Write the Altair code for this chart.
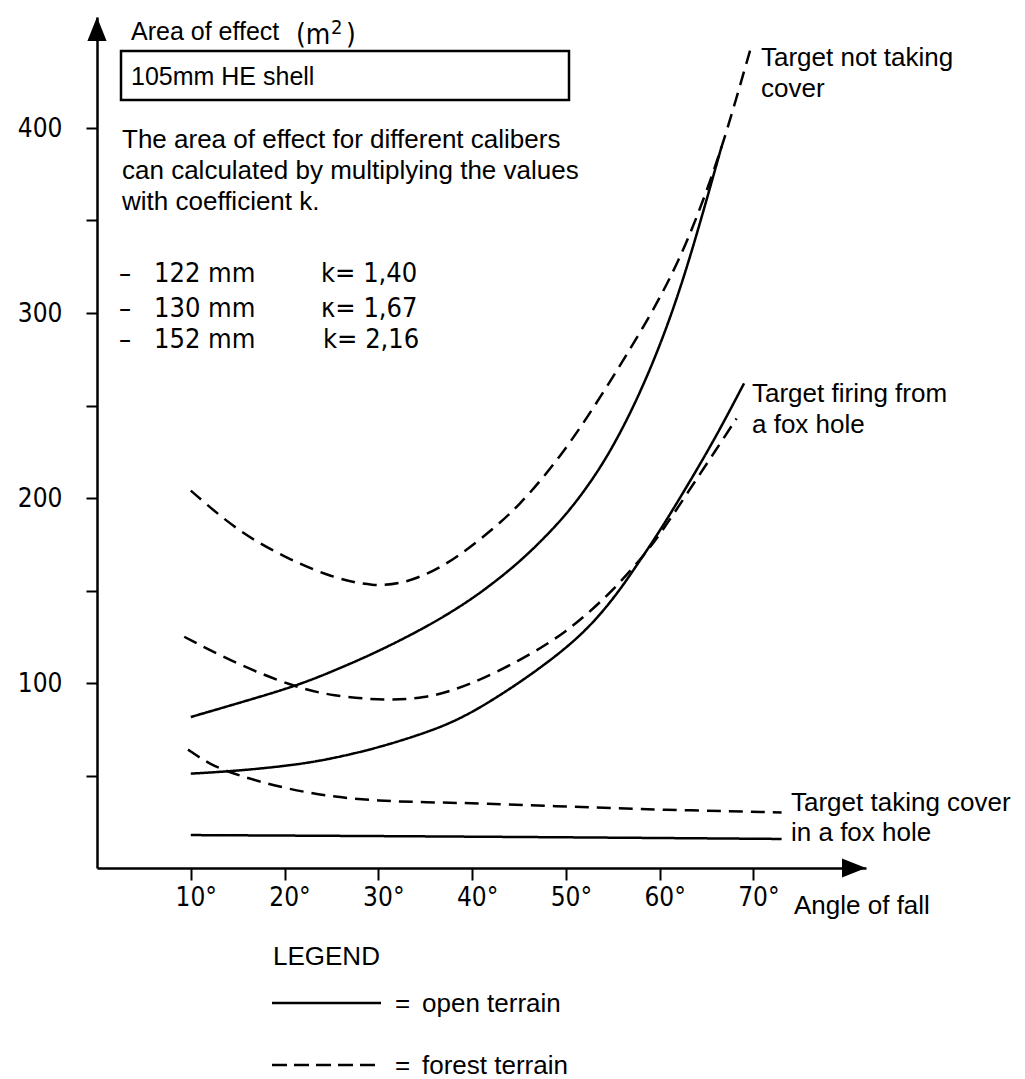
import altair as alt
import pandas as pd

# ---------------- data ----------------
x_ticks = [10, 20, 30, 40, 50, 60, 70]
y_ticks = [50, 100, 150, 200, 250, 300, 350, 400]

open_nocover_angle = [10, 15, 21, 25, 30, 35, 38, 41, 45, 48, 50, 52, 54, 56, 58, 60, 62, 64, 66.6]
open_nocover_area = [81.6, 89, 98, 106, 117, 130, 139, 149, 165, 180, 191, 204, 219, 237, 258, 282, 310, 343, 390]

forest_nocover_angle = [10, 15, 20, 25, 29.5, 33, 37, 40.5, 45, 50, 54, 58, 60, 62, 64, 66, 67.5, 69.7]
forest_nocover_area = [204, 182, 168, 157, 152, 154, 163, 176, 195, 226, 257, 290, 308, 328, 352, 380, 404, 443]

open_fox_angle = [10, 15, 21, 25, 30, 35, 38, 41, 45, 48, 50, 52, 54, 56, 58, 60, 63, 66, 69]
open_fox_area = [51, 52.5, 55.6, 59, 65, 73, 79, 87, 100, 111, 119, 128, 139, 152, 167, 182, 207, 233, 262]

forest_fox_angle = [9.3, 15, 21, 25, 31, 35, 38, 41, 45, 48, 50, 52, 55, 58, 60, 63, 66, 68.2]
forest_fox_area = [125, 110, 98, 93, 90.4, 92, 96, 102, 112, 121, 128, 136, 150, 167, 180, 203, 226, 243]

forest_cover_angle = [9.7, 12, 15, 20, 25, 30, 35, 41, 51, 60, 73]
forest_cover_area = [64, 56, 50, 43, 38.5, 36.3, 35.5, 35, 33, 31.5, 30]

open_cover_angle = [10, 40, 73]
open_cover_area = [17.8, 17, 15.7]

series = [
    ("open_nocover", "open", open_nocover_angle, open_nocover_area),
    ("forest_nocover", "forest", forest_nocover_angle, forest_nocover_area),
    ("open_fox", "open", open_fox_angle, open_fox_area),
    ("forest_fox", "forest", forest_fox_angle, forest_fox_area),
    ("forest_cover", "forest", forest_cover_angle, forest_cover_area),
    ("open_cover", "open", open_cover_angle, open_cover_area),
]
rows = []
for name, terrain, angs, vals in series:
    for a, v in zip(angs, vals):
        rows.append({"series": name, "terrain": terrain, "angle": a, "area": v})
df = pd.DataFrame(rows)

# ---------------- layout ----------------
W, H = 769, 851
XMAX, YMAX = 82, 460
SANS = "Liberation Sans"
COND = "DejaVu Sans Condensed, DejaVu Sans"

x_scale = alt.Scale(domain=[0, XMAX], nice=False, zero=True)
y_scale = alt.Scale(domain=[0, YMAX], nice=False, zero=True)

lines = alt.Chart(df).mark_line(
    interpolate="basis", color="black", strokeWidth=2.5
).encode(
    x=alt.X("angle:Q", scale=x_scale, axis=alt.Axis(
        values=x_ticks, labelExpr="datum.value + '°'", title=None, grid=False,
        tickSize=12, tickWidth=2, tickColor="black", domainColor="black", domainWidth=2.5,
        labelFont=COND, labelFontSize=26, labelColor="black", labelPadding=4,
        labelOffset=5, labelOverlap=False, labelFlush=False)),
    y=alt.Y("area:Q", scale=y_scale, axis=alt.Axis(
        values=y_ticks, labelExpr="datum.value % 100 == 0 ? datum.label : ''", title=None,
        grid=False, tickSize=11, tickWidth=2, tickColor="black", domainColor="black",
        domainWidth=2.5, labelFont=COND, labelFontSize=26, labelColor="black",
        labelPadding=24, labelOverlap=False, labelFlush=False)),
    detail="series:N",
    strokeDash=alt.StrokeDash("terrain:N", scale=alt.Scale(
        domain=["open", "forest"], range=[[1, 0], [14, 8]]), legend=None),
)

one = pd.DataFrame({"t": [""]})


def txt(s, x, y, size=26, font=SANS):
    return alt.Chart(pd.DataFrame({"t": [s]})).mark_text(
        align="left", baseline="alphabetic", font=font, fontSize=size, color="black"
    ).encode(text="t:N", x=alt.value(x), y=alt.value(y))


# arrows
y_arrow = alt.Chart(one).mark_point(
    shape="M0,-1L0.8,1L-0.8,1Z", filled=True, size=576, color="black", opacity=1, strokeWidth=0
).encode(x=alt.value(0), y=alt.value(12))
x_arrow = alt.Chart(one).mark_point(
    shape="M1,0L-1,-0.8L-1,0.8Z", filled=True, size=576, color="black", opacity=1, strokeWidth=0
).encode(x=alt.value(W - 12), y=alt.value(H))

box = alt.Chart(one).mark_rect(fill="white", stroke="black", strokeWidth=2.5).encode(
    x=alt.value(24), x2=alt.value(472), y=alt.value(34), y2=alt.value(83))

leg_solid = alt.Chart(one).mark_rule(color="black", strokeWidth=2.5).encode(
    x=alt.value(175), x2=alt.value(284), y=alt.value(986))
leg_dash = alt.Chart(one).mark_rule(color="black", strokeWidth=2.5, strokeDash=[15, 7]).encode(
    x=alt.value(175), x2=alt.value(281), y=alt.value(1048))

texts = [
    txt("Area of effect", 34, 23, 25),
    txt("(m", 199, 27, 28, COND),
    txt("2", 234, 17, 20, COND),
    txt(")", 249, 27, 28, COND),
    txt("105mm HE shell", 34, 68, 25),
    txt("The area of effect for different calibers", 25, 131, 26),
    txt("can calculated by multiplying the values", 25, 162, 26),
    txt("with coefficient k.", 25, 193, 26),
    txt("–", 22, 265, 27, COND),
    txt("122 mm", 57, 265, 27, COND),
    txt("k= 1,40", 224, 265, 27, COND),
    txt("–", 22, 300, 27, COND),
    txt("130 mm", 57, 300, 27, COND),
    txt("κ= 1,67", 224, 300, 27, COND),
    txt("–", 22, 331, 27, COND),
    txt("152 mm", 57, 331, 27, COND),
    txt("k= 2,16", 226, 331, 27, COND),
    txt("Target not taking", 664, 49),
    txt("cover", 664, 80),
    txt("Target firing from", 655, 385),
    txt("a fox hole", 655, 416),
    txt("Target taking cover", 694, 794),
    txt("in a fox hole", 694, 824),
    txt("Angle of fall", 697, 897),
    txt("LEGEND", 176, 948),
    txt("=", 298, 995),
    txt("open terrain", 325, 995),
    txt("=", 298, 1057),
    txt("forest terrain", 325, 1057),
]

chart = alt.layer(box, lines, y_arrow, x_arrow, leg_solid, leg_dash, *texts).properties(
    width=W, height=H,
    padding={"left": 97, "top": 17, "right": 159, "bottom": 211},
    autosize=alt.AutoSizeParams(type="none"),
    background="white",
).configure_view(stroke=None)

chart.save("out.html", embed_options={"renderer": "svg", "actions": False})
